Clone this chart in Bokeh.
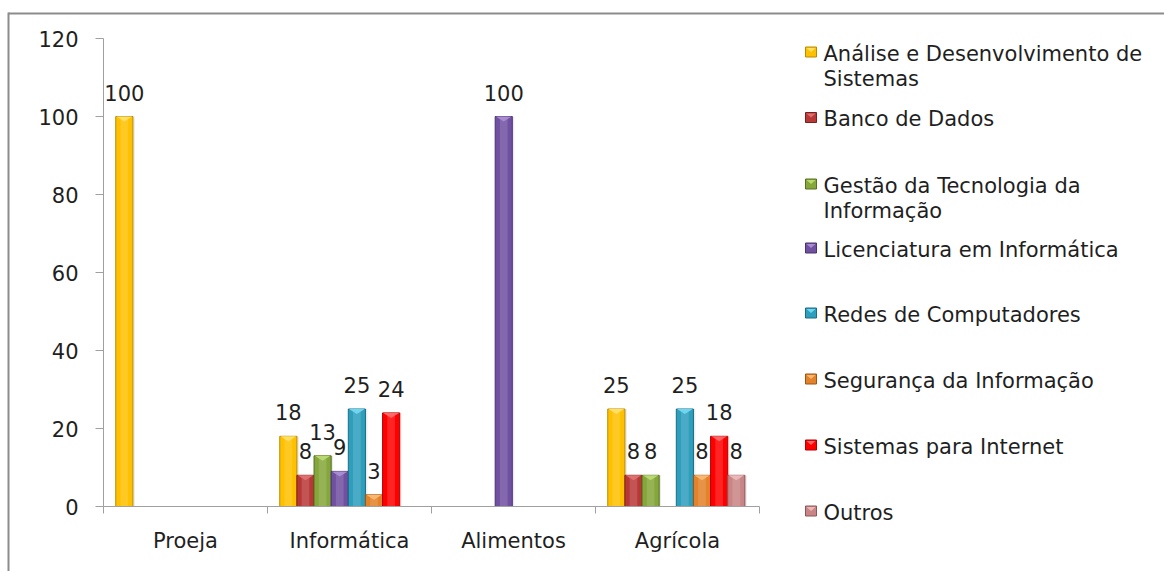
from bokeh.plotting import figure
from bokeh.models import ColumnDataSource, FixedTicker, Range1d
from bokeh.core.properties import value
from bokeh.embed import file_html
from bokeh.resources import INLINE

# --- data -----------------------------------------------------------------
categories = ["Proeja", "Informática", "Alimentos", "Agrícola"]

series = [
    "Análise e Desenvolvimento de Sistemas",
    "Banco de Dados",
    "Gestão da Tecnologia da Informação",
    "Licenciatura em Informática",
    "Redes de Computadores",
    "Segurança da Informação",
    "Sistemas para Internet",
    "Outros",
]

ads = [100, 18, 0, 25]
banco_dados = [0, 8, 0, 8]
gestao_ti = [0, 13, 0, 8]
licenciatura = [0, 9, 100, 0]
redes = [0, 25, 0, 25]
seguranca = [0, 3, 0, 8]
sistemas_internet = [0, 24, 0, 18]
outros = [0, 0, 0, 8]

values_by_series = [ads, banco_dados, gestao_ti, licenciatura, redes,
                    seguranca, sistemas_internet, outros]

y_ticks = [0, 20, 40, 60, 80, 100, 120]
Y_MAX = 120

# --- styling --------------------------------------------------------------
base_colors = ["#FFC000", "#B83838", "#84A63A", "#7050A0",
               "#2E9EBD", "#E2822A", "#FF0000", "#C98585"]
dark_colors = ["#B98A00", "#7A1F1F", "#56701F", "#4A3370",
               "#1C6C82", "#9C5416", "#B00000", "#8C5555"]
light_colors = ["#FFE066", "#E07070", "#B8D870", "#A88CD0",
                "#6FD6F0", "#F8B870", "#FF6666", "#EBB8B8"]

FONT = "DejaVu Sans"
TEXT_COLOR = "#1f1f1f"
AXIS_COLOR = "#a0a0a0"
BORDER_COLOR = "#8c8c8c"

W, H = 1164, 571
# where the plotting area sits on the page (pixels)
AREA_L, AREA_R, AREA_T, AREA_B = 103, 759, 38, 506

n_cat = len(categories)
px_per_cat = (AREA_R - AREA_L) / n_cat
px_per_unit = (AREA_B - AREA_T) / Y_MAX

BAR_W = 0.1045          # width of one bar, in category units
FIRST_OFFSET = 0.127    # centre of first bar from category start
BEVEL = 1.3             # depth of the bevel triangle on bar tops (y units)

# The frame fills the page; axes are pinned at the origin so the legend
# and the chart border can share the same canvas.
p = figure(width=W, height=H, output_backend="svg", toolbar_location=None,
           x_range=Range1d(-AREA_L / px_per_cat, (W - AREA_L) / px_per_cat),
           y_range=Range1d(-(H - AREA_B) / px_per_unit, Y_MAX + AREA_T / px_per_unit),
           min_border=0)
p.extra_x_ranges = {"px": Range1d(0, W)}
p.extra_y_ranges = {"px": Range1d(H, 0)}
p.outline_line_color = None
p.xgrid.visible = False
p.ygrid.visible = False
p.background_fill_color = "white"
p.border_fill_color = "white"

# --- bars -----------------------------------------------------------------
for i, vals in enumerate(values_by_series):
    xs, tops = [], []
    for c, v in enumerate(vals):
        if v > 0:
            xs.append(c + FIRST_OFFSET + BAR_W * i)
            tops.append(v)
    if not xs:
        continue
    src = ColumnDataSource(dict(
        x=xs, top=tops, label=[str(v) for v in tops],
        shadow_x=[x + 0.012 for x in xs],
    ))
    # soft shadow on the right
    p.vbar(x="shadow_x", top="top", bottom=0, width=BAR_W, source=src,
           fill_color="#000000", fill_alpha=0.08, line_color=None)
    p.vbar(x="x", top="top", bottom=0, width=BAR_W, source=src,
           fill_color=base_colors[i], line_color=dark_colors[i], line_width=1)
    # lighter band to give the bar a rounded look
    p.vbar(x="x", top="top", bottom=0, width=BAR_W * 0.45, source=src,
           fill_color="white", fill_alpha=0.14, line_color=None)
    # bevelled top
    tri_x = [[x - BAR_W / 2 + 0.004, x + BAR_W / 2 - 0.004, x] for x in xs]
    tri_y = [[t, t, t - BEVEL] for t in tops]
    p.patches(tri_x, tri_y, fill_color=light_colors[i], line_color=None)
    # value labels
    p.text(x="x", y="top", text="label", source=src,
           text_font=value(FONT), text_font_size="21px", text_color=TEXT_COLOR,
           text_align="center", text_baseline="alphabetic", y_offset=-24)

# --- axes -----------------------------------------------------------------
xa = p.xaxis[0]
xa.fixed_location = 0
xa.bounds = (0, n_cat)
xa.ticker = FixedTicker(ticks=[c + 0.5 for c in range(n_cat)],
                        minor_ticks=list(range(n_cat + 1)))
xa.major_label_overrides = {c + 0.5: name for c, name in enumerate(categories)}
xa.major_tick_line_color = None
xa.major_tick_out = 0
xa.major_tick_in = 0
xa.minor_tick_line_color = AXIS_COLOR
xa.minor_tick_out = 7
xa.minor_tick_in = 0
xa.axis_line_color = AXIS_COLOR
xa.major_label_text_font = FONT
xa.major_label_text_font_size = "21px"
xa.major_label_text_color = TEXT_COLOR
xa.major_label_standoff = 15

ya = p.yaxis[0]
ya.fixed_location = 0
ya.bounds = (0, Y_MAX)
ya.ticker = FixedTicker(ticks=y_ticks)
ya.minor_tick_line_color = None
ya.major_tick_line_color = AXIS_COLOR
ya.major_tick_out = 8
ya.major_tick_in = 0
ya.axis_line_color = AXIS_COLOR
ya.major_label_text_font = FONT
ya.major_label_text_font_size = "21px"
ya.major_label_text_color = TEXT_COLOR
ya.major_label_standoff = 17

# --- chart border (page pixels) -------------------------------------------
p.segment(x0=[8, 8], y0=[13, 12], x1=[W, 8], y1=[13, H],
          line_color=BORDER_COLOR, line_width=2,
          x_range_name="px", y_range_name="px")

# --- legend (page pixels) -------------------------------------------------
legend_lines = [
    ["Análise e Desenvolvimento de", "Sistemas"],
    ["Banco de Dados"],
    ["Gestão da Tecnologia da", "Informação"],
    ["Licenciatura em Informática"],
    ["Redes de Computadores"],
    ["Segurança da Informação"],
    ["Sistemas para Internet"],
    ["Outros"],
]
legend_rows = [53, 118.5, 185, 249, 314, 380, 446, 512]   # first line of each entry
LINE_GAP = 25
TEXT_X = 823
MARK_L, MARK_R = 805, 816

tx, ty, tt = [], [], []
for i, lines in enumerate(legend_lines):
    for k, line in enumerate(lines):
        tx.append(TEXT_X)
        ty.append(legend_rows[i] + k * LINE_GAP)
        tt.append(line)
p.text(x=tx, y=ty, text=tt, text_font=value(FONT), text_font_size="21px",
       text_color=TEXT_COLOR, text_align="left", text_baseline="alphabetic",
       x_range_name="px", y_range_name="px")

mark_cy = [r - 1.5 for r in legend_rows]
p.quad(left=[MARK_L] * len(mark_cy), right=[MARK_R] * len(mark_cy),
       top=[c - 5 for c in mark_cy], bottom=[c + 5 for c in mark_cy],
       fill_color=base_colors, line_color=dark_colors, line_width=1,
       x_range_name="px", y_range_name="px")
mid = (MARK_L + MARK_R) / 2
p.patches([[MARK_L + 1, MARK_R - 1, mid] for _ in mark_cy],
          [[c - 4, c - 4, c] for c in mark_cy],
          fill_color=light_colors, line_color=None,
          x_range_name="px", y_range_name="px")

open("out.html", "w").write(file_html(p, INLINE))
